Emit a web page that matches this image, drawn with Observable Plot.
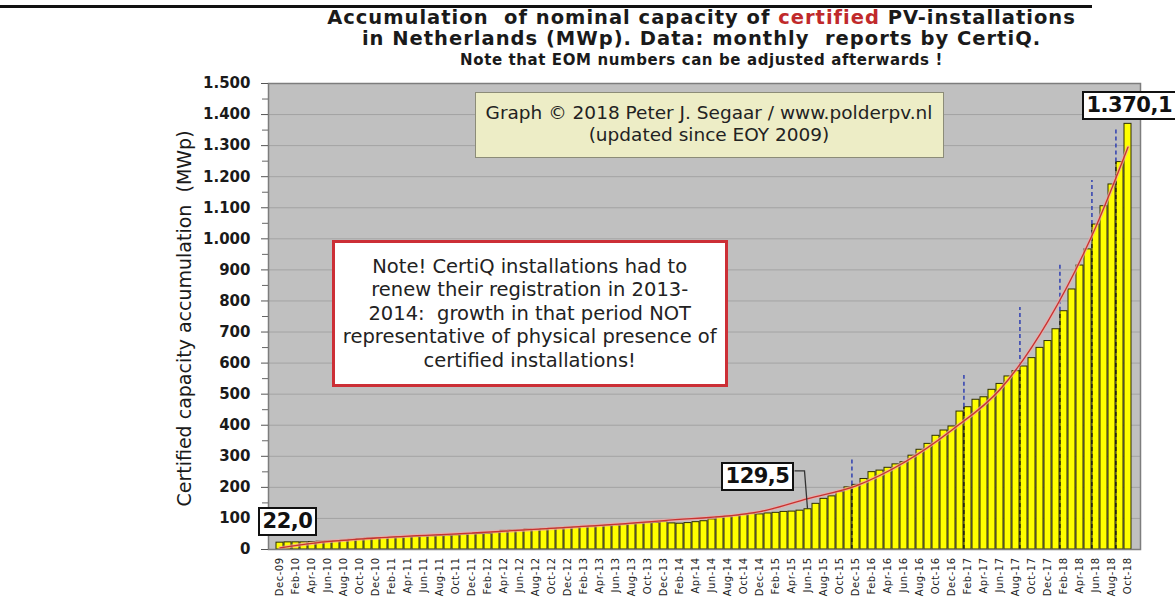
<!DOCTYPE html>
<html><head><meta charset="utf-8">
<script src="https://cdn.jsdelivr.net/npm/d3@7"></script>
<script src="https://cdn.jsdelivr.net/npm/@observablehq/plot@0.6"></script>
<style>
html,body{margin:0;padding:0;background:#fff;}
body{width:1175px;height:602px;overflow:hidden;position:relative;font-family:"DejaVu Sans",sans-serif;}
#rule{position:absolute;left:0;top:5px;width:1092px;height:3px;background:#111;}
.tl{position:absolute;left:114px;width:1175px;text-align:center;font-family:"DejaVu Sans",sans-serif;font-weight:bold;color:#1a1a1a;white-space:pre;}
#chart{position:absolute;left:0;top:68px;width:1175px;height:534px;}
#chart svg g[aria-label="x-axis tick label"] text{letter-spacing:0.5px;}
.box{position:absolute;white-space:pre;text-align:center;}
.num{position:absolute;background:#fff;border:2px solid #111;font:bold 21px "DejaVu Sans",sans-serif;letter-spacing:-0.5px;color:#111;padding:0 3px;line-height:25px;white-space:nowrap;}
</style></head><body>
<div id="rule"></div>
<div class="tl" style="top:8px;height:20px;font-size:19.5px;line-height:20px;letter-spacing:1px;">Accumulation  of nominal capacity of <span style="color:#c0292b">certified</span> PV-installations</div>
<div class="tl" style="top:29px;height:20px;font-size:19.5px;line-height:20px;letter-spacing:1px;">in Netherlands (MWp). Data: monthly  reports by CertiQ.</div>
<div class="tl" style="top:52px;height:17px;font-size:15px;line-height:17px;letter-spacing:0.6px;">Note that EOM numbers can be adjusted afterwards !</div>
<div id="chart"></div>
<script>
// ---- categories ----
const monthNames = ["Jan","Feb","Mar","Apr","May","Jun","Jul","Aug","Sep","Oct","Nov","Dec"];
const yearCodes = ["10","11","12","13","14","15","16","17","18"];
const months = ["Dec-09"];
yearCodes.forEach(y => monthNames.forEach(m => months.push(m + "-" + y)));
months.splice(months.indexOf("Oct-18") + 1); // series ends Oct-18

// ---- values (MWp, end of month) ----
const cap2009 = [22.0];
const cap2010 = [23, 23, 23, 24, 25, 26, 27, 29, 31, 33, 35, 36];
const cap2011 = [37, 38, 39, 40, 41, 42, 43, 44, 45, 46, 48, 50];
const cap2012 = [50, 51, 55, 60, 61, 61, 64, 63, 65, 67, 68, 70];
const cap2013 = [71, 73, 74, 76, 77, 78, 80, 82, 84, 86, 86, 89];
const cap2014 = [84, 83, 85, 88, 91, 97, 103, 106, 108, 112, 115, 113];
const cap2015 = [116, 118, 121, 122, 125, 129.5, 147, 163, 171, 185, 200, 208];
const cap2016 = [227, 249, 254, 263, 274, 281, 302, 321, 340, 366, 383, 396];
const cap2017 = [444, 458, 482, 490, 514, 533, 557, 574, 589, 616, 649, 671];
const cap2018 = [709, 767, 837, 914, 966, 1046, 1105, 1175, 1247, 1370.1];
const capacity = [...cap2009, ...cap2010, ...cap2011, ...cap2012, ...cap2013, ...cap2014, ...cap2015, ...cap2016, ...cap2017, ...cap2018];

// ---- trend line ----
const trendMonths = ["Dec-09","Apr-10","Dec-10","Dec-11","Dec-12","Dec-13","Dec-14","Jun-15","Dec-15","Jun-16","Dec-16","Jun-17","Dec-17","Jun-18","Oct-18"];
const trendValues = [5, 20, 37, 53, 71, 93, 122, 164, 205, 280, 385, 515, 735, 1040, 1295];

// ---- dashed markers ----
const markerMonths = ["Dec-15","Feb-17","Sep-17","Feb-18","Jun-18","Sep-18"];
const markerTops = [293, 560, 779, 924, 1188, 1358];

// ---- axis ticks ----
const yTicks = [0,100,200,300,400,500,600,700,800,900,1000,1100,1200,1300,1400,1500];
const yTickLabels = ["0","100","200","300","400","500","600","700","800","900","1.000","1.100","1.200","1.300","1.400","1.500"];
const yMinorTicks = [50,150,250,350,450,550,650,750,850,950,1050,1150,1250,1350,1450];
const xTicks = months.filter((m, i) => i % 2 === 0);

// ---- value labels ----
const labelMonths = ["Dec-09","Jun-15","Oct-18"];
const labelTexts = ["22,0","129,5","1.370,1"];

const data = months.map((m, i) => ({month: m, value: capacity[i]}));
const trend = trendMonths.map((m, i) => ({month: m, value: trendValues[i]}));
const markers = markerMonths.map((m, i) => ({month: m, top: markerTops[i], bar: capacity[months.indexOf(m)]}));

const W = 1175, H = 534, ML = 268, MR = 35, MT = 15, MB = 53;
const pIn = 0.1, pOut = 0.05;
const stepPx = (W - ML - MR) / (months.length - pIn + 2 * pOut);

const plot = Plot.plot({
  width: W, height: H, marginLeft: ML, marginRight: MR, marginTop: MT, marginBottom: MB,
  style: {background: "transparent", overflow: "visible", fontFamily: "DejaVu Sans, sans-serif"},
  x: {type: "band", domain: months, paddingInner: pIn, paddingOuter: pOut, label: null},
  y: {domain: [0, 1500], label: null},
  marks: [
    Plot.frame({fill: "#c0c0c0", stroke: null}),
    Plot.gridY(yTicks.slice(1, -1), {stroke: "#a3a3a3", strokeOpacity: 1, strokeWidth: 1}),
    Plot.barY(data, {x: "month", y: "value", fill: "#ffff00", stroke: "#2e2e00", strokeWidth: 1}),
    Plot.ruleX(markers, {x: "month", y1: 0, y2: "bar", dx: -stepPx / 2, stroke: "#111", strokeDasharray: "4,3", strokeWidth: 1.2}),
    Plot.ruleX(markers, {x: "month", y1: "bar", y2: "top", dx: -stepPx / 2, stroke: "#2f3fb0", strokeDasharray: "4,3", strokeWidth: 1.5}),
    Plot.line(trend, {x: "month", y: "value", curve: "monotone-x", stroke: "#f0a8a8", strokeWidth: 3.5, strokeOpacity: 0.7}),
    Plot.line(trend, {x: "month", y: "value", curve: "monotone-x", stroke: "#c8322f", strokeWidth: 1.3}),
    Plot.frame({stroke: "#7d7d7d", strokeWidth: 1.5}),
    Plot.axisY(yMinorTicks, {tickSize: 6, text: null, stroke: "#666"}),
    Plot.axisY(yTicks, {tickSize: 7, tickPadding: 11, stroke: "#555", fill: "#1a1a1a",
      tickFormat: d => yTickLabels[yTicks.indexOf(d)], fontSize: 15, fontWeight: "bold", label: null}),
    Plot.axisX(xTicks, {tickRotate: -90, tickSize: 0, tickPadding: 8, fontSize: 10, fill: "#222", label: null}),
    Plot.text(["Certified capacity accumulation  (MWp)"], {frameAnchor: "left", dx: -84, dy: 2, rotate: -90, textAnchor: "middle", fontSize: 19, fill: "#1a1a1a"})
  ]
});
const chart = document.getElementById("chart");
chart.appendChild(plot);

const X = plot.scale("x"), Y = plot.scale("y");
const bw = X.bandwidth;
const xc = m => X.apply(m) + bw / 2;

// copyright box
const cpy = document.createElement("div");
cpy.className = "box";
const cpyL = xc("Dec-11") + 3, cpyR = xc("Nov-16");
Object.assign(cpy.style, {
  left: cpyL + "px", top: Y.apply(1472) + "px",
  width: (cpyR - cpyL) + "px", height: (Y.apply(1257) - Y.apply(1472)) + "px",
  background: "#ededc6", border: "1px solid #8c8c78", boxSizing: "border-box",
  font: "18.5px 'DejaVu Sans',sans-serif", color: "#222",
  display: "flex", alignItems: "center", justifyContent: "center", lineHeight: "22px", paddingBottom: "2px"
});
cpy.textContent = "Graph © 2018 Peter J. Segaar / www.polderpv.nl\n(updated since EOY 2009)";
chart.appendChild(cpy);

// note box
const note = document.createElement("div");
note.className = "box";
const noteL = X.apply("Jul-10"), noteR = X.apply("Aug-14") + bw / 2;
Object.assign(note.style, {
  left: noteL + "px", top: Y.apply(995) + "px",
  width: (noteR - noteL) + "px", height: (Y.apply(521) - Y.apply(995)) + "px",
  background: "#fff", border: "3px solid #cc2f36", boxSizing: "border-box",
  font: "19.5px 'DejaVu Sans',sans-serif", color: "#222",
  display: "flex", alignItems: "center", justifyContent: "center", lineHeight: "23.5px"
});
note.textContent = "Note! CertiQ installations had to\nrenew their registration in 2013-\n2014:  growth in that period NOT\nrepresentative of physical presence of\ncertified installations!";
chart.appendChild(note);

// value labels
const labelPos = [
  {cx: xc(labelMonths[0]) + 8, cy: Y.apply(87), anchor: "center"},
  {cx: xc(labelMonths[1]) - 50, cy: Y.apply(232), anchor: "center"},
  {cx: xc("Apr-18") + 2, cy: Y.apply(1429), anchor: "left"}
];
labelTexts.forEach((t, i) => {
  const d = document.createElement("div");
  d.className = "num";
  d.textContent = t;
  chart.appendChild(d);
  const r = d.getBoundingClientRect();
  const p = labelPos[i];
  d.style.left = (p.anchor === "center" ? p.cx - r.width / 2 : p.cx) + "px";
  d.style.top = (p.cy - r.height / 2) + "px";
});

// leader line for 129,5
const jx = xc(labelMonths[1]);
d3.select(plot).append("path")
  .attr("d", `M${jx - 13},${Y.apply(232) - 6}H${jx - 3}L${jx},${Y.apply(129.5)}`)
  .attr("fill", "none").attr("stroke", "#333").attr("stroke-width", 1.3);
</script>
</body></html>
